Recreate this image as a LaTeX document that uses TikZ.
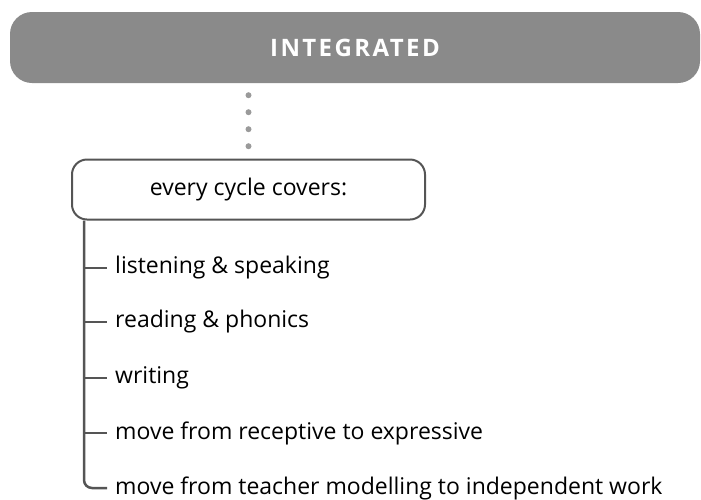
\documentclass[tikz,border=0pt]{standalone}
\usepackage{fontspec}
\setmainfont{Open Sans}
\newfontfamily\bannerfont[LetterSpace=10]{Open Sans}
\usepackage{tikz}
\definecolor{bannergray}{HTML}{8A8A8A}
\definecolor{dotgray}{HTML}{9A9A9A}
\definecolor{linegray}{HTML}{555555}
\tikzstyle{banner}=[fill=bannergray,rounded corners=22pt,minimum width=690pt,minimum height=71pt,text=white,font=\bannerfont\fontsize{24}{28}\selectfont\bfseries]
\tikzstyle{covers}=[draw=linegray,line width=2pt,rounded corners=15pt,minimum width=353pt,minimum height=60pt,font=\fontsize{23}{27}\selectfont]
\tikzstyle{dotline}=[dotgray,line width=6pt,line cap=round,dash pattern=on 0pt off 17pt]
\tikzstyle{tree}=[linegray,line width=2.5pt]
\tikzstyle{item}=[anchor=west,inner xsep=8pt,inner ysep=0pt,font=\fontsize{23}{27}\selectfont]

\begin{document}
\begin{tikzpicture}[x=1pt,y=-1pt]
\useasboundingbox (0,0) rectangle (701,499);
\node[banner] (integrated) at (355,47.5) {INTEGRATED};
\node[covers] (cycle) at (248.5,189.5) {every cycle covers:};
\draw[dotline,shorten <=12pt,shorten >=12pt] (cycle.north |- integrated.south) -- (cycle.north);
\coordinate (trunk) at ([xshift=13pt]cycle.south west);
\foreach \place/\name/\text in {{(107,268)/i1/listening \& speaking},
  {(107,322)/i2/reading \& phonics}, {(107,378)/i3/writing},
  {(107,433)/i4/move from receptive to expressive},
  {(107,488)/i5/move from teacher modelling to independent work}}
    \node[item] (\name) at \place {\text};
\foreach \name in {i1,i2,i3,i4}
  \draw[tree] (trunk |- \name.west) -- (\name.west);
\draw[tree,rounded corners=8pt] (trunk) |- (i5.west);
\end{tikzpicture}
\end{document}
